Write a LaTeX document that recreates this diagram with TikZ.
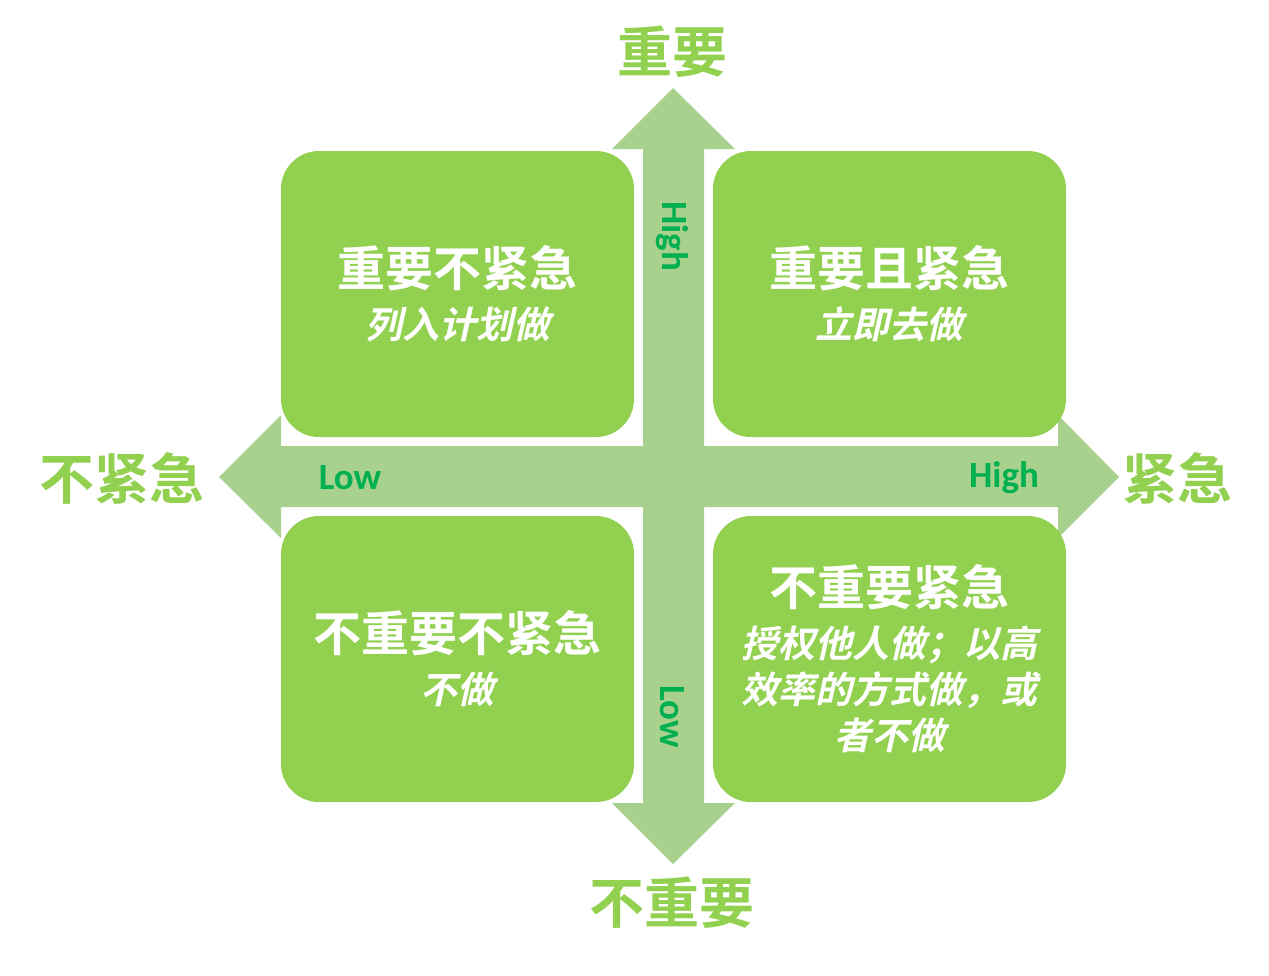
\documentclass[tikz,border=0pt]{standalone}
\usepackage{fontspec}
\newfontfamily\cjkb{Noto Sans CJK SC Bold}
\newfontfamily\cjkbi[FakeSlant=0.22]{Noto Sans CJK SC Bold}
\newfontfamily\carl{Carlito}
\definecolor{boxgreen}{HTML}{92D050}
\definecolor{arrowgreen}{HTML}{A9D18E}
\definecolor{labgreen}{HTML}{00B050}
\begin{document}
\begin{tikzpicture}[x=1pt,y=-1pt,
  quad/.style={fill=boxgreen, draw=none, rounded corners=38pt, minimum width=353pt, minimum height=286pt,
    inner sep=0pt, align=center, text=white, font=\cjkbi\fontsize{37}{46}\selectfont},
  axislab/.style={text=boxgreen, font=\cjkb\fontsize{55}{60}\selectfont, inner sep=0pt},
  lvl/.style={text=labgreen, font=\carl\bfseries\fontsize{37}{42}\selectfont, inner sep=0pt},
  axisarrow/.style={fill=arrowgreen, draw=none}]
\useasboundingbox (0,0) rectangle (1269,975);
% vertical arrow
\fill[axisarrow] (673,88) -- (735,149) -- (704,149) -- (704,803) -- (735,803) -- (673,864)
  -- (612,803) -- (643,803) -- (643,149) -- (612,149) -- cycle;
% horizontal arrow
\fill[axisarrow] (219,477) -- (281,415) -- (281,446) -- (1058,446) -- (1058,415) -- (1119,477)
  -- (1058,538) -- (1058,507) -- (281,507) -- (281,538) -- cycle;
% quadrants
\node[quad] (tl) at (457.5,294) {{\fontsize{48}{52}\selectfont\cjkb 重要不紧急}\\[6pt]列入计划做};
\node[quad] (tr) at (889.5,294) {{\fontsize{48}{52}\selectfont\cjkb 重要且紧急}\\[6pt]立即去做};
\node[quad] (bl) at (457.5,659) {{\fontsize{48}{52}\selectfont\cjkb 不重要不紧急}\\[6pt]不做};
\node[quad] (br) at (889.5,659) {{\fontsize{48}{52}\selectfont\cjkb 不重要紧急}\\[6pt]授权他人做；以高\\效率的方式做，或\\者不做};
% axis labels
\node[axislab] (imp) at (672,52) {重要};
\node[axislab] (notimp) at (672,903) {不重要};
\node[axislab] (noturg) at (122,478) {不紧急};
\node[axislab] (urg) at (1177,478) {紧急};
% level labels
\node[lvl, rotate=-90] (vhigh) at (672,236) {High};
\node[lvl, rotate=-90] (vlow) at (672,717) {Low};
\node[lvl] (hlow) at (350,478) {Low};
\node[lvl] (hhigh) at (1004,478) {High};
\end{tikzpicture}
\end{document}
